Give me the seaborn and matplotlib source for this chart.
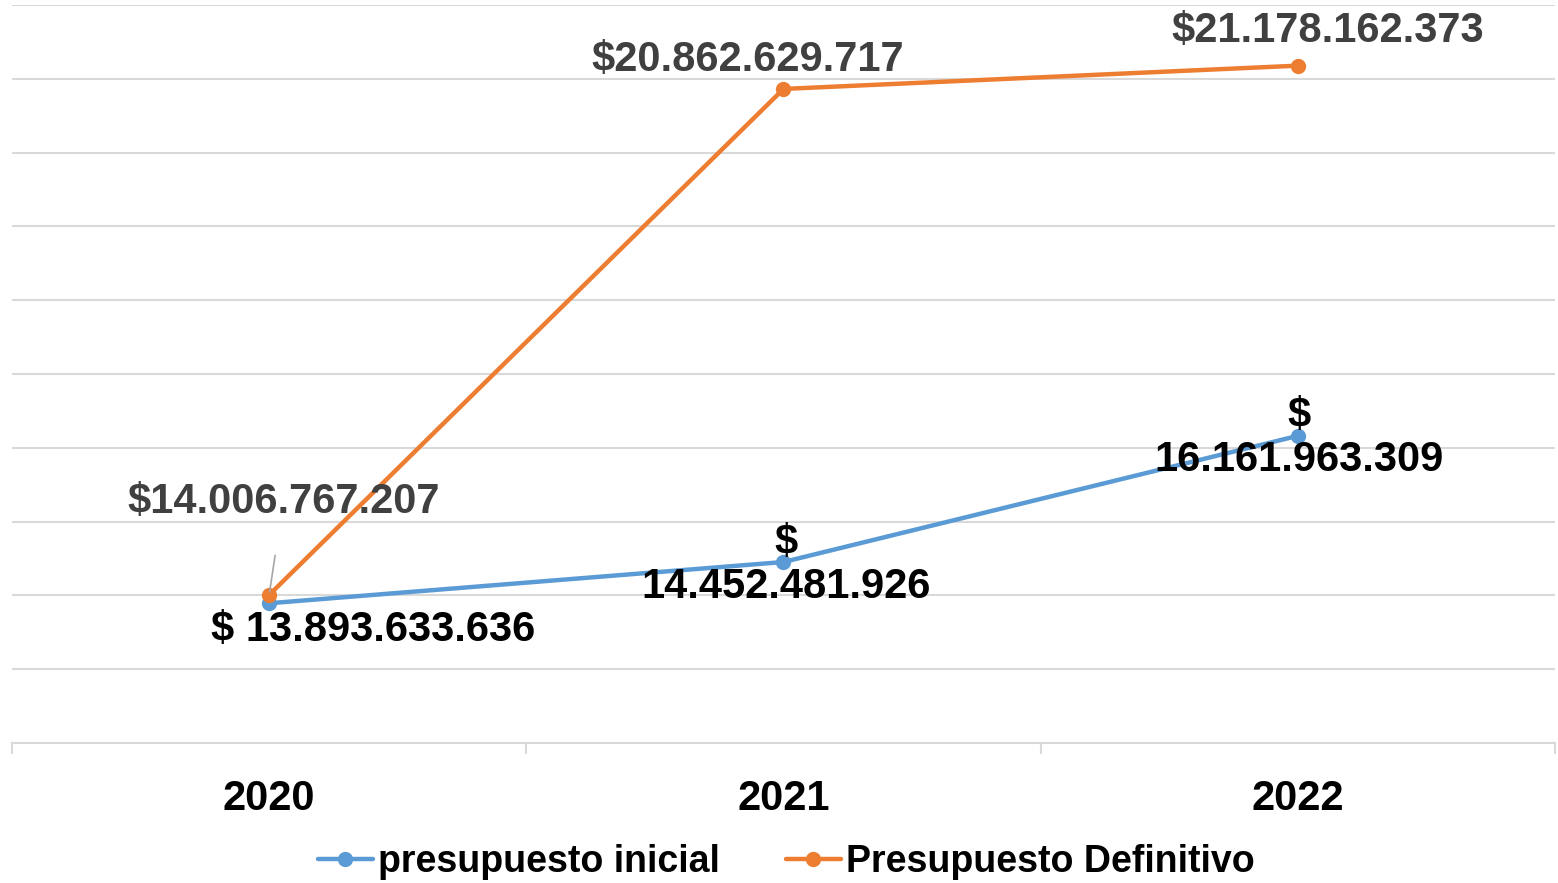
import numpy as np
import pandas as pd
import matplotlib.pyplot as plt
import seaborn as sns

# chart values (pesos)
years = ["2020", "2021", "2022"]
inicial = [13893633636, 14452481926, 16161963309]
definitivo = [14006767207, 20862629717, 21178162373]
series_names = ["presupuesto inicial", "Presupuesto Definitivo"]
inicial_labels = ["$ 13.893.633.636", "$\n14.452.481.926", "$\n16.161.963.309"]
definitivo_labels = ["$14.006.767.207", "$20.862.629.717", "$21.178.162.373"]

df = pd.DataFrame({
    "year": years * 2,
    "value": inicial + definitivo,
    "serie": [series_names[0]] * 3 + [series_names[1]] * 3,
})

sns.set_style("white")
plt.rcParams["font.family"] = ["Liberation Sans", "DejaVu Sans"]
plt.rcParams["font.weight"] = "bold"
plt.rcParams["text.color"] = "black"
plt.rcParams["xtick.labelcolor"] = "black"

fig = plt.figure(figsize=(15.58, 8.83), dpi=100)
ax = fig.add_axes([12 / 1558, 1 - 743 / 883, 1543 / 1558, 738 / 883])

palette = {series_names[0]: "#5b9bd5", series_names[1]: "#ed7d31"}
sns.lineplot(data=df, x="year", y="value", hue="serie", palette=palette,
             marker="o", markersize=11, markeredgewidth=0, linewidth=3.2,
             ax=ax, legend=False)

ax.set_xlim(-0.5, 2.5)
ax.set_ylim(12e9, 22e9)
ax.set_yticks(np.arange(12e9, 22.1e9, 1e9))
ax.set_yticklabels([])
ax.grid(axis="y", color="#d9d9d9", linewidth=1.5)
ax.set_axisbelow(True)
for s in ["top", "left", "right"]:
    ax.spines[s].set_visible(False)
ax.spines["bottom"].set_color("#d9d9d9")
ax.spines["bottom"].set_linewidth(1.5)
ax.tick_params(axis="y", length=0)
ax.tick_params(axis="x", which="major", length=0, pad=26, labelsize=30,
               labelcolor="black")
ax.set_xticks([-0.5, 0.5, 1.5, 2.5], minor=True)
ax.tick_params(axis="x", which="minor", bottom=True, direction="out",
               length=8, color="#d9d9d9", width=1.5)
for lbl in ax.get_xticklabels():
    lbl.set_fontweight("bold")
ax.set_xlabel("")
ax.set_ylabel("")

# data labels
def_off = [(14, 93), (-36, 29), (30, 35)]
ini_off = [(104, -27), (3, -3), (1, -2)]
for i in range(3):
    kw = {}
    if i == 0:
        kw["arrowprops"] = dict(arrowstyle="-", color="#a6a6a6", lw=1.2,
                                shrinkA=22, shrinkB=2)
    ax.annotate(definitivo_labels[i], (i, definitivo[i]), xytext=def_off[i],
                textcoords="offset pixels", ha="center", va="center",
                fontsize=30, fontweight="bold", color="#404040", **kw)
    ax.annotate(inicial_labels[i], (i, inicial[i]), xytext=ini_off[i],
                textcoords="offset pixels", ha="center", va="center",
                fontsize=30, fontweight="bold", color="black",
                multialignment="center", linespacing=1.15)

handles = [plt.Line2D([], [], color=palette[n], lw=3.2, marker="o",
                      markersize=11, markeredgewidth=0) for n in series_names]
leg = fig.legend(handles, series_names, loc="center",
                 bbox_to_anchor=(786 / 1558, 21 / 883),
                 ncol=2, frameon=False, prop={"size": 27, "weight": "bold"},
                 handlelength=1.47, handletextpad=0.13, columnspacing=1.76)
for t in leg.get_texts():
    t.set_color("black")

fig.savefig("out.png", dpi=100)
